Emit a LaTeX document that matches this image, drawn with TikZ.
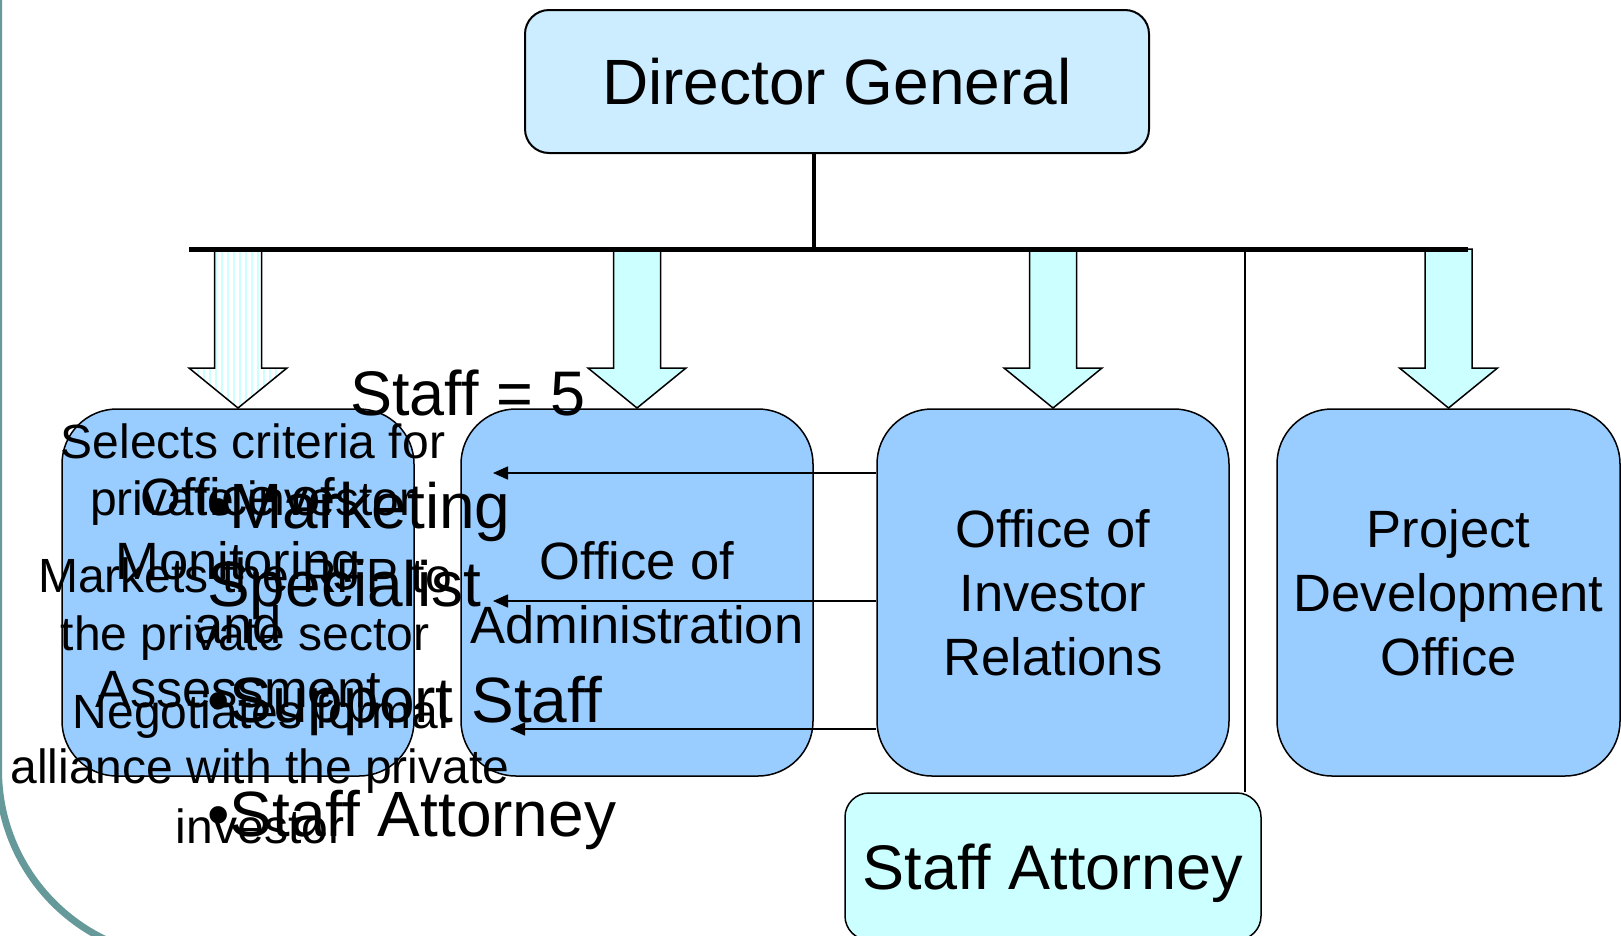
\documentclass[tikz,border=0pt]{standalone}
\usepackage{fontspec}
\setmainfont{Liberation Sans}
\definecolor{ink}{HTML}{000000}
\definecolor{headfill}{HTML}{CCECFF}
\definecolor{officefill}{HTML}{99CCFF}
\definecolor{palecyan}{HTML}{CCFFFF}
\definecolor{frameteal}{HTML}{669999}
\usetikzlibrary{
  arrows.meta,
  calc,
  patterns.meta
}
\newcommand{\headfont}{\fontsize{64}{77}\selectfont}
\newcommand{\officefont}{\fontsize{52.5}{64}\selectfont}
\newcommand{\notefont}{\fontsize{48}{57.5}\selectfont}
\newcommand{\listfont}{\fontsize{64}{78}\selectfont}
\newcommand{\countfont}{\fontsize{63}{72}\selectfont}
\tikzset{
  every node/.style={text=ink},
  headbox/.style={
    draw=ink,
    fill=headfill,
    line width=2pt,
    rounded corners=24pt,
    minimum width=624pt,
    minimum height=143pt,
    inner sep=0pt,
    font=\headfont
  },
  office/.style={
    draw=ink,
    fill=officefill,
    line width=1.5pt,
    rounded corners=55pt,
    minimum width=352pt,
    minimum height=367pt,
    inner sep=0pt,
    align=center,
    font=\officefont
  },
  attorney/.style={
    draw=ink,
    fill=palecyan,
    line width=1.5pt,
    rounded corners=24pt,
    minimum width=416pt,
    minimum height=147pt,
    inner sep=0pt,
    text depth=0pt,
    font=\fontsize{63}{76}\selectfont
  },
  bus/.style={line width=5pt, draw=ink},
  drop/.style={line width=4pt, draw=ink},
  thin/.style={line width=1.5pt, draw=ink},
  feed/.style={-{Triangle[length=15pt,width=13pt]}, line width=1.5pt, draw=ink},
  note/.style={font=\notefont, anchor=base, inner sep=0pt},
  listline/.style={font=\listfont, anchor=base west, inner sep=0pt},
  solidarrow/.style={fill=palecyan},
  stripearrow/.style={pattern={Lines[angle=90,distance=6pt,line width=2.5pt]}, pattern color=palecyan},
  downarrow/.pic={
    \draw[line width=1.5pt, draw=ink, #1] (-23.5,0) -- (-23.5,119) -- (-49,119) -- (0,159)
      -- (49,119) -- (23.5,119) -- (23.5,0) -- cycle;
  }
}

\begin{document}
\begin{tikzpicture}[x=1pt, y=-1pt]
  \useasboundingbox (0,0) rectangle (1621,935);

  % Slide frame on the left
  \begin{scope}
    \clip (0,0) rectangle (1621,935);
    \draw[frameteal, line width=7pt] (-1.5,-20) -- (-1.5,770)
      arc[start angle=180, end angle=270, radius=188pt];
  \end{scope}

  % Top of the chart
  \node[headbox] (dg) at (837,81.5) {Director General};
  \coordinate (busL) at (189,249);
  \coordinate (busR) at (1468,249);
  \coordinate (drop) at (814,249);
  \coordinate (legal) at (1245,249);

  % Offices
  \node[office] (monitor) at (238,592.5) {Office of\\Monitoring\\and\\Assessment};
  \node[office] (admin) at (637,592.5) {Office of\\Administration};
  \node[office] (invest) at (1053,592.5) {Office of\\Investor\\Relations};
  \node[office, minimum width=343pt] (project) at (1448.5,592.5) {Project\\Development\\Office};
  \node[attorney] (atty) at (1053,866.5) {Staff Attorney};

  % Block arrows from the bus
  \pic at (monitor.north |- busL) {downarrow=stripearrow};
  \pic at (admin.north |- busL) {downarrow=solidarrow};
  \pic at (invest.north |- busL) {downarrow=solidarrow};
  \pic at (project.north |- busL) {downarrow=solidarrow};

  \draw[drop] (drop |- dg.south) -- (drop);
  \draw[bus] (busL) -- (busR);
  \draw[thin] (legal) -- (legal |- atty.north);

  % Investor relations feeding administration
  \coordinate (tipA) at (493,473);
  \coordinate (tipB) at (493,601);
  \coordinate (tipC) at (510,729);
  \draw[feed] (invest.west |- tipA) -- (tipA);
  \draw[feed] (invest.west |- tipB) -- (tipB);
  \draw[feed] (invest.west |- tipC) -- (tipC);

  % Overlaid text boxes
  \node[note] (sel1) at (253,458) {Selects criteria for};
  \node[note] (sel2) at (253,515) {private investor};
  \node[note] (mkt1) at (245,592) {Markets the RFP to};
  \node[note] (mkt2) at (245,650) {the private sector};
  \node[note] (neg1) at (261,728) {Negotiates formal};
  \node[note] (neg2) at (260,783) {alliance with the private};
  \node[note] (neg3) at (260,843) {investor};

  \node[font=\countfont, anchor=base west, inner sep=0pt] (count) at (350,415) {Staff = 5};
  \node[listline] (li1) at (207,528) {•Marketing};
  \node[listline] (li2) at (207,606) {Specialist};
  \node[listline] (li3) at (207,722) {•Support Staff};
  \node[listline] (li4) at (207,836) {•Staff Attorney};
\end{tikzpicture}
\end{document}
